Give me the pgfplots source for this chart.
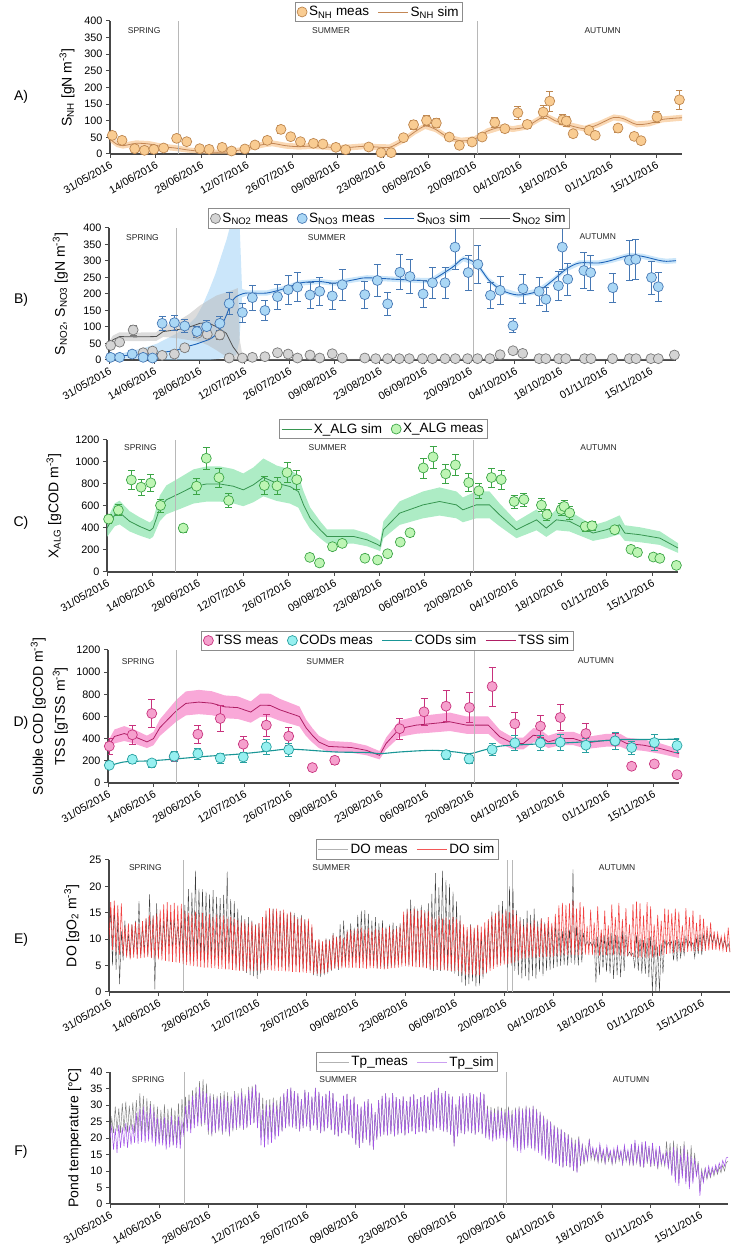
\documentclass[border=0pt]{standalone}
\usepackage{pgfplots}
\pgfplotsset{compat=1.18}
\usepackage{pgfplotstable}
\usepackage{fontspec}
\setmainfont{Liberation Sans}

\definecolor{Afill}{RGB}{249,204,146}
\definecolor{Aedge}{RGB}{190,135,80}
\definecolor{Aline}{RGB}{195,135,85}
\definecolor{Aband}{RGB}{246,190,130}
\definecolor{NOtwofill}{RGB}{212,212,212}
\definecolor{NOtwoedge}{RGB}{120,120,120}
\definecolor{NOtwoline}{RGB}{80,80,80}
\definecolor{NOtwoband}{RGB}{185,185,185}
\definecolor{NOthrfill}{RGB}{170,215,245}
\definecolor{NOthredge}{RGB}{70,120,180}
\definecolor{NOthrline}{RGB}{30,100,185}
\definecolor{NOthrband}{RGB}{160,210,245}
\definecolor{Cfill}{RGB}{190,245,180}
\definecolor{Cedge}{RGB}{60,165,70}
\definecolor{Cline}{RGB}{55,150,80}
\definecolor{Cband}{RGB}{145,230,178}
\definecolor{TSSfill}{RGB}{245,160,205}
\definecolor{TSSedge}{RGB}{200,50,125}
\definecolor{TSSline}{RGB}{175,30,100}
\definecolor{TSSband}{RGB}{245,110,190}
\definecolor{CODfill}{RGB}{150,240,240}
\definecolor{CODedge}{RGB}{40,160,160}
\definecolor{CODline}{RGB}{25,150,150}
\definecolor{DOsimc}{RGB}{240,45,45}
\definecolor{DOmeasc}{RGB}{60,60,60}
\definecolor{Tpsimc}{RGB}{160,80,230}
\definecolor{Tpmeasc}{RGB}{125,125,125}

\pgfplotsset{
  panel/.style={
    scale only axis, xmin=0, xmax=176, ymin=0,
    axis x line*=bottom, axis y line*=left,
    axis line style={-, line width=1.3pt, black!72},
    tick style={line width=1pt, black!72},
    tick align=outside, major tick length=4pt,
    xtick={0,14,...,168},
    xticklabels={31/05/2016,14/06/2016,28/06/2016,12/07/2016,26/07/2016,09/08/2016,23/08/2016,06/09/2016,20/09/2016,04/10/2016,18/10/2016,01/11/2016,15/11/2016},
    xticklabel style={rotate=30, anchor=north east, inner sep=1.5pt, font=\fontsize{10.8}{12}\selectfont},
    yticklabel style={font=\fontsize{10.8}{12}\selectfont},
    /pgf/number format/assume math mode=true,
    /pgf/number format/1000 sep={},
    ylabel style={font=\fontsize{14}{16}\selectfont},
    legend style={draw=black!45, line width=0.8pt, fill=white, legend columns=-1,
      font=\fontsize{13.5}{15}\selectfont, anchor=center, inner sep=2pt,
      /tikz/every even column/.append style={column sep=7pt}},
    legend cell align=left,
  },
  meas/.style={only marks, mark=*, mark size=5pt, line width=0.7pt, forget plot},
  season/.style={black!28, line width=0.9pt, forget plot},
  band/.style={draw=none, forget plot},
  markleg/.style={legend image code/.code={\draw[##1] plot coordinates {(0.25cm,0cm)};}},
  lineleg/.style={legend image code/.code={\draw[##1] (0cm,0cm) -- (1.05cm,0cm);}},
}
\tikzset{seasonlab/.style={font=\fontsize{8.5}{10}\selectfont, text=black!85}}

% ---------------- Panel A ----------------
\pgfplotstableread{
d v e
0.7 56 8
3.7 41 8
7.6 16 5
10.6 11 4
13.5 14 5
16.5 18 5
20.5 47 7
23.6 37 6
27.6 16 5
30.5 14 5
34.5 20 5
37.4 9 4
41.5 15 5
44.6 27 5
48.4 41 6
52.6 74 12
55.6 52 8
58.6 37 6
62.6 32 6
65.5 30 6
69.5 20 5
72.5 13 4
79.6 21 5
83.4 4 3
86.5 4 3
90.3 49 7
93.4 88 13
97.4 101 15
100.4 93 14
104.4 51 8
107.5 26 5
111.4 36 6
114.5 51 7
118.4 95 14
121.5 76 11
125.5 124 19
128.4 89 13
133.3 126 19
135.3 159 30
139.3 103 15
140.4 99 15
142.5 61 9
147.4 71 11
149.3 56 8
156.3 78 12
161.3 53 8
163.4 40 6
168.3 111 17
175.2 163 30
}\Ameas
\pgfplotstableread{
d v
0 45
2 30
4 25
8 32
12 30
16 22
20 18
24 12
28 8
32 5
36 6
40 12
44 22
48 30
50 32
54 25
58 22
62 24
66 22
70 18
74 20
78 23
82 21
86 20
90 40
94 68
97 84
100 75
104 50
108 40
112 44
116 68
120 80
124 75
128 82
132 105
134 115
137 100
140 90
146 76
150 88
155 110
158 106
162 89
166 92
170 104
176 109
}\Asim
% band outline: upper edge forward, lower edge backward
\pgfplotstableread{
d y
0 54
2 39
4 34
8 41
12 39
16 31
20 27
24 20
28 16
32 13
36 14
40 20
44 31
48 39
50 41
54 34
58 31
62 33
66 31
70 27
74 29
78 32
82 30
86 29
90 49
94 77
97 93
100 84
104 59
108 49
112 53
116 77
120 89
124 84
128 91
132 114
134 124
137 109
140 99
146 85
150 97
155 119
158 115
162 98
166 101
170 113
176 118
176 100
170 95
166 83
162 80
158 97
155 101
150 79
146 67
140 81
137 91
134 106
132 96
128 73
124 66
120 71
116 59
112 35
108 31
104 41
100 66
97 75
94 59
90 31
86 11
82 12
78 14
74 11
70 9
66 13
62 15
58 13
54 16
50 23
48 21
44 13
40 4
36 0
32 0
28 1
24 4
20 9
16 13
12 21
8 23
4 16
2 21
0 36
}\Apoly

% ---------------- Panel B ----------------
\pgfplotstableread{
d v e
0.5 44 6
3.3 54 7
7.5 91 15
10.6 22 5
13.5 27 5
16.5 14 4
20.3 18 4
23.5 37 6
27.5 81 10
30.5 78 10
34.4 76 12
37.3 6 3
41.4 6 3
44.5 8 3
48.4 10 4
52.3 22 5
55.6 18 5
58.5 6 3
62.4 15 5
65.4 6 3
69.3 19 5
72.4 6 3
79.4 6 3
82.8 4 3
86.5 4 3
90.1 4 3
93.2 4 3
97.3 4 3
100.4 4 3
104.3 4 3
107.5 4 3
111.3 4 3
114.4 4 3
118.2 4 3
121.4 16 5
125.4 28 6
128.4 20 5
133.5 4 3
135.6 4 3
139.6 4 3
141.8 4 3
147.6 4 3
149.6 4 3
156.3 4 3
161.5 4 3
163.6 4 3
168.2 4 3
170.5 4 3
175.5 15 5
}\Bnotwo
\pgfplotstableread{
d v e
0.5 8 3
3.3 8 3
7.2 18 4
10.6 8 3
13.5 6 3
16.5 111 22
20.3 113 22
23.5 103 20
27.3 86 17
30.3 101 20
34.4 111 22
37.3 171 34
41.4 144 29
44.5 189 38
48.4 150 30
52.3 192 38
55.6 213 43
58.5 221 44
62.4 197 39
65.4 208 42
69.3 194 39
72.4 228 46
79.4 198 40
83.3 241 48
86.5 170 34
90.3 266 53
93.4 253 51
97.5 200 40
100.4 234 47
104.3 234 47
107.4 342 68
111.5 265 53
114.5 290 58
118.4 196 39
121.4 211 42
125.4 104 21
128.5 216 43
133.5 208 42
135.6 184 37
139.5 225 45
140.7 342 68
142.4 245 49
147.4 271 54
149.5 265 53
156.4 219 44
161.5 302 60
163.5 305 61
168.4 250 50
170.5 222 44
}\Bnothree
\pgfplotstableread{
d v
0 10
4 13
8 15
12 18
15 20
18 25
21 30
24 40
27 48
29 55
31 62
33 75
35 105
36.5 137
38 175
39.5 192
40.5 197
41.3 200
43 203
49 203
55 218
59 233
65 238
70 233
76 243
80 249
90 244
97 241
100 241
106.6 281
110 307
114 292
118 241
122 211
127 197
133 208
137.7 241
142 276
146 294
152 294
156 302
161.5 317
165.6 314
170.7 302
173 299
176 301
}\Bsimthree
\pgfplotstableread{
d y
0 15
4 20
8 30
12 40
15 50
18 65
21 80
24 100
27 130
29 165
31 210
33 260
35 320
36.5 365
38 420
39.5 420
40.5 420
41.3 215
43 211
49 211
55 226
59 241
65 246
70 241
76 251
80 257
90 252
97 249
100 249
106.6 289
110 315
114 300
118 249
122 219
127 205
133 216
137.7 249
142 284
146 302
152 302
156 310
161.5 325
165.6 322
170.7 310
173 307
176 309
176 293
173 291
170.7 294
165.6 306
161.5 309
156 294
152 286
146 286
142 268
137.7 233
133 200
127 189
122 203
118 233
114 284
110 299
106.6 273
100 233
97 233
90 236
80 241
76 235
70 225
65 230
59 225
55 210
49 195
43 195
41.3 190
40.5 60
39.5 15
38 10
36.5 8
35 5
33 2
31 0
29 0
27 0
24 0
21 0
18 0
15 1
12 2
8 3
4 5
0 5
}\Bpolythree
\pgfplotstableread{
d v
0 45
1.2 61
3.3 71
8 70
14.7 71
16.8 86
21.9 93
25 100
28.2 111
30.7 113
33.3 101
36.4 81
38.5 40
40 20
40.6 10
41.5 4
42.7 2
50 1
176 1
}\Bsimtwo
\pgfplotstableread{
d y
0 55
1.2 74
3.3 84
8 83
14.7 84
16.8 102
21.9 121
25 140
28.2 165
30.7 180
33.3 195
36.4 205
38.5 212
40 218
40.6 60
41.5 10
42.7 5
50 3
176 3
176 0
50 0
42.7 0
41.5 0
40.6 0
40 0
38.5 0
36.4 10
33.3 30
30.7 45
28.2 55
25 60
21.9 65
16.8 70
14.7 58
8 57
3.3 58
1.2 48
0 35
}\Bpolytwo

% ---------------- Panel C ----------------
\pgfplotstableread{
d v e
0.5 481 40
3.5 562 50
7.5 837 85
10.5 771 75
13.5 810 80
16.5 605 60
23.5 399 35
27.6 780 75
30.6 1034 100
34.5 858 85
37.5 650 65
48.5 786 80
52.4 783 75
55.5 904 90
58.5 840 85
62.5 133 20
65.5 82 15
69.5 230 25
72.5 260 25
79.5 125 20
83.4 109 15
86.5 166 20
90.4 272 25
93.4 357 35
97.5 946 90
100.5 1046 100
104.4 892 90
107.4 973 95
111.5 813 80
114.6 738 70
118.5 859 85
121.5 840 85
125.5 641 60
128.5 659 60
133.9 608 60
135.6 523 50
140 568 55
140.9 596 60
142.6 538 55
147.4 414 40
149.5 420 40
156.5 384 35
161.5 206 20
163.5 178 20
168.4 136 15
170.4 124 15
175.5 60 10
}\Cmeas
\pgfplotstableread{
d v
0 399
2.4 520
3.9 540
7 460
10.1 414
13.2 375
14.2 399
16.3 580
18.3 656
22.5 716
26.6 777
30.7 800
34.8 800
38.9 780
42 747
45.1 792
48.2 860
52.3 807
56.4 777
59 731
60.6 610
62.6 490
65.7 384
67.8 323
71.9 323
76 323
80.1 293
83.4 250
84.2 235
85.2 384
90.2 535
97.4 610
102.5 641
107.7 610
109.7 565
113.8 610
117.9 610
121 520
126.2 384
129.3 429
132.4 474
135.4 399
138.5 474
142.6 460
145.7 414
149.8 354
153.9 384
158 429
159.6 354
164.2 339
170.4 308
176 218
}\Csim
\pgfplotstableread{
d y
0 479
2.4 624
3.9 648
7 552
10.1 497
13.2 450
14.2 479
16.3 696
18.3 787
22.5 859
26.6 932
30.7 960
34.8 960
38.9 936
42 896
45.1 950
48.2 1032
52.3 968
56.4 932
59 877
60.6 732
62.6 588
65.7 461
67.8 388
71.9 388
76 388
80.1 352
83.4 300
84.2 282
85.2 461
90.2 642
97.4 732
102.5 769
107.7 732
109.7 678
113.8 732
117.9 732
121 624
126.2 461
129.3 515
132.4 569
135.4 479
138.5 569
142.6 552
145.7 497
149.8 425
153.9 461
158 515
159.6 425
164.2 407
170.4 370
176 262
176 174
170.4 246
164.2 271
159.6 283
158 343
153.9 307
149.8 283
145.7 331
142.6 368
138.5 379
135.4 319
132.4 379
129.3 343
126.2 307
121 416
117.9 488
113.8 488
109.7 452
107.7 488
102.5 513
97.4 488
90.2 428
85.2 307
84.2 188
83.4 200
80.1 234
76 258
71.9 258
67.8 258
65.7 307
62.6 392
60.6 488
59 585
56.4 622
52.3 646
48.2 688
45.1 634
42 598
38.9 624
34.8 640
30.7 640
26.6 622
22.5 573
18.3 525
16.3 464
14.2 319
13.2 300
10.1 331
7 368
3.9 432
2.4 416
0 319
}\Cpoly

% ---------------- Panel D ----------------
\pgfplotstableread{
d v e
0.4 332 70
7.5 435 90
13.5 627 125
20.4 237 45
27.7 440 85
34.6 582 120
41.7 350 70
48.8 522 100
55.7 422 85
63 139 15
69.9 205 40
89.9 490 95
97.4 642 125
104.2 693 140
111.4 681 135
118.4 871 175
125.4 534 105
133.3 513 100
139.4 591 120
147.3 446 90
156.3 377 75
161.4 151 15
168.4 172 20
175.4 75 10
}\Dtss
\pgfplotstableread{
d v e
0.4 160 30
7.5 214 40
13.5 181 35
20.4 241 45
27.7 265 50
34.6 226 45
41.7 235 45
48.8 326 65
55.7 301 60
104.2 256 40
111.3 217 35
118.4 301 55
125.4 362 70
133.3 362 65
139.4 368 70
147.3 341 65
156.3 380 75
161.4 320 60
168.4 365 70
175.4 338 65
}\Dcod
\pgfplotstableread{
d v
0 150
5 190
13 200
20 215
30 240
40 260
50 290
55 305
60 300
70 280
80 275
84 265
90 280
100 295
107 280
111.5 265
115.6 295
120.8 332
125 341
131 350
141 362
152 380
158 392
162 392
176 395
}\Dcodsim
\pgfplotstableread{
d v
0 326
2 420
5 446
8 420
12 371
14 400
16 500
18 560
21 650
24 718
28 730
32 720
36 687
40 680
44 640
47 702
50 700
53 660
57 620
59 600
61 500
63 430
65 370
68 330
75 320
79.6 295
83.7 250
85.7 356
89.9 491
95 522
100.2 537
105.4 552
110.5 522
117.2 522
120.8 416
124.9 356
128 356
131.1 431
133.1 422
135.7 371
139.4 401
143.5 401
147.6 362
153.7 386
157.9 386
159.9 356
165.1 341
170.2 311
176 265
}\Dtsssim
\pgfplotstableread{
d y
0 375
2 483
5 513
8 483
12 427
14 460
16 575
18 644
21 748
24 826
28 840
32 828
36 790
40 782
44 736
47 807
50 805
53 759
57 713
59 690
61 575
63 495
65 426
68 380
75 368
79.6 339
83.7 288
85.7 409
89.9 565
95 600
100.2 618
105.4 635
110.5 600
117.2 600
120.8 478
124.9 409
128 409
131.1 496
133.1 485
135.7 427
139.4 461
143.5 461
147.6 416
153.7 444
157.9 444
159.9 409
165.1 392
170.2 358
176 305
176 225
170.2 264
165.1 290
159.9 303
157.9 328
153.7 328
147.6 308
143.5 341
139.4 341
135.7 315
133.1 359
131.1 366
128 303
124.9 303
120.8 354
117.2 444
110.5 444
105.4 469
100.2 456
95 444
89.9 417
85.7 303
83.7 213
79.6 251
75 272
68 281
65 315
63 366
61 425
59 510
57 527
53 561
50 595
47 597
44 544
40 578
36 584
32 612
28 621
24 610
21 553
18 476
16 425
14 340
12 315
8 357
5 379
2 357
0 277
}\Dpoly

% ---------------- Panel E (half-day lows/highs) ----------------
\pgfplotstableread[row sep=\\]{
y\\
10\\17\\8\\17.3\\7.5\\16.5\\7\\16.8\\6.8\\12.5\\6.5\\13\\6.2\\12.8\\
6.5\\13.2\\6.3\\12.9\\6.4\\13.4\\6.5\\14\\6.6\\14.6\\6.4\\14.3\\6.3\\14.8\\
6.2\\15.6\\6\\16.6\\5.9\\17\\5.8\\16.5\\5.7\\16.9\\5.6\\16.4\\5.5\\16.7\\
5.3\\15.4\\5.1\\15\\5\\14.8\\4.9\\15.2\\4.8\\14.6\\4.7\\15\\4.6\\14.4\\
4.6\\14.8\\4.5\\14.2\\4.5\\14.6\\4.4\\14.3\\4.4\\14.5\\4.3\\13.9\\4.3\\14.2\\
4.2\\13.8\\4.1\\13.6\\4\\13.2\\4\\13.5\\3.9\\12.8\\3.9\\13.3\\4\\12.6\\
4\\13.1\\4.1\\14.2\\4.1\\15.4\\4.2\\15.9\\4.1\\15.7\\4\\15.8\\4\\15.3\\
4\\15.6\\3.9\\14.9\\3.9\\15.1\\3.8\\14.3\\3.8\\13.8\\3.7\\14.1\\3.7\\13.6\\
3.6\\13.9\\3.6\\12.8\\3.5\\9.8\\3.4\\10\\3.5\\9.6\\3.6\\9.9\\3.8\\9.7\\
4.2\\10.8\\4.4\\10.4\\4.5\\10.6\\4.5\\10.2\\4.6\\11.5\\4.5\\11.8\\4.6\\11.6\\
4.6\\12\\4.5\\12.2\\4.5\\11.8\\4.4\\12.1\\4.5\\11.6\\4.5\\12\\4.4\\11.7\\
4.4\\12.2\\4.3\\11.9\\4.4\\12.3\\4.5\\11.8\\4.5\\12\\4.6\\12.6\\4.8\\15.2\\
4.9\\15.6\\4.8\\15.4\\4.8\\15.8\\4.7\\15.3\\4.7\\15.5\\4.6\\15.1\\4.5\\15.3\\
4.4\\14.2\\4.3\\13.8\\4.2\\14.4\\4.2\\13.9\\4.1\\14.1\\4.1\\13.7\\4\\14.2\\
4\\13.8\\3.9\\13.5\\3.5\\12.8\\3.3\\12.3\\3.2\\12.6\\3.2\\12.2\\3.1\\12.7\\
3.2\\12.4\\3.4\\13.2\\3.7\\13.8\\4\\14.5\\4.4\\15\\4.7\\15.3\\5\\14.8\\
5.2\\15.4\\5.3\\15.1\\5.4\\15.5\\5.6\\14.6\\6\\13.5\\6.2\\12.5\\6.3\\13.2\\
6.4\\12.8\\6.5\\13.6\\6.5\\12.4\\6.6\\13.9\\6.6\\12.9\\6.7\\14.2\\6.6\\13.1\\
6.7\\14.8\\6.8\\16.4\\6.9\\16.9\\7\\16.5\\7\\16.8\\7.1\\17.2\\7\\15.8\\
7\\17\\7\\16.2\\7.1\\12.5\\7\\15.6\\7\\13.2\\6.9\\16.2\\6.9\\11.8\\
7\\15.4\\7\\12.6\\7.1\\16.6\\7\\14.2\\7\\16.9\\6.9\\13.8\\6.8\\15.9\\
6.8\\12.8\\6.7\\16.6\\6.6\\17.1\\6.5\\16.8\\6.5\\14.5\\6.5\\17\\6.4\\16.2\\
6.5\\12.8\\6.6\\14.6\\6.8\\13.5\\7\\15.8\\7.2\\15.6\\7.3\\14.9\\7.4\\15.8\\
7.5\\15.2\\7.5\\12.6\\7.6\\15.9\\7.6\\14.2\\7.7\\15.4\\7.7\\13.1\\7.8\\14.6\\
7.8\\13.9\\7.8\\12.5\\7.9\\13.2\\8\\11.5\\8\\11.2\\8.1\\10.5\\7.9\\10.8\\7.6\\12.2\\
7.5\\
}\DOsim
\pgfplotstableread[row sep=\\]{
y\\
9\\15.8\\5\\16.5\\4.2\\14\\1.5\\11.5\\6\\13.5\\7\\11\\6.5\\12.8\\
7.2\\13.5\\7\\17.2\\6.8\\12.5\\7.5\\13.8\\7\\18.5\\6.5\\14.5\\0.5\\16.8\\
6.5\\13.2\\7.2\\13.5\\8\\15\\8.5\\14.2\\8\\13.8\\9\\12.5\\8.5\\13.5\\
6.5\\16.5\\6.5\\19.5\\6\\18.8\\5.8\\23\\6.5\\19.6\\6\\19.5\\5.5\\19\\
6.2\\18.5\\5.8\\19.3\\6\\18\\5.5\\17.8\\6\\18.4\\5.8\\22.8\\5.5\\17.6\\
5\\17.2\\4.5\\15.8\\4.2\\14.5\\4\\13.8\\3.6\\14.2\\3.2\\13.5\\3\\12.8\\
2.5\\13\\3.5\\12.5\\4.2\\14.8\\4.5\\15.5\\5\\15.8\\5.2\\15.2\\5\\15.4\\
4.8\\15\\5\\14.6\\4.6\\15.2\\4.5\\15\\4.8\\14.2\\4.6\\14.6\\4.4\\13.8\\
4.5\\13.5\\4\\12.2\\3.2\\9.5\\3\\9.8\\2.8\\9.2\\3.2\\10.2\\3.5\\10\\
4\\11.2\\4.5\\10.5\\4.2\\12.8\\5\\13.5\\5.5\\11.8\\5.8\\13\\6\\12.2\\
5.6\\14.6\\5.2\\15.4\\5.8\\15.5\\5\\14.8\\5.2\\13.5\\5\\14.2\\4.5\\13\\
4.8\\13.6\\4.5\\12.4\\4.6\\12.8\\4.8\\13.2\\5\\12.5\\5.2\\13\\5.5\\14.2\\
5.5\\15.8\\5.2\\17.5\\5\\16.2\\5.4\\15.8\\5\\16.5\\4.8\\15.5\\4.5\\16.8\\
4.2\\18.6\\4\\22.5\\4.2\\19.8\\4\\23\\4.4\\21.2\\4\\20.5\\3.8\\19\\
3.5\\17.2\\3\\14.5\\1.8\\12.2\\1.2\\11.5\\1.5\\12.8\\2\\11.8\\1\\12.5\\
1.2\\11.2\\2.5\\12\\3.5\\13.5\\4.5\\15.2\\5\\14.8\\5.2\\16.5\\5.5\\17.2\\
5.8\\15.8\\4.5\\20\\5\\19.6\\4\\15.5\\3.2\\14.2\\2.6\\13.8\\3\\15.4\\
2.2\\14.6\\3\\15.8\\2.5\\13.5\\3.8\\14\\3\\13.2\\4\\12.8\\4.2\\12.4\\
4.5\\13\\4.8\\12\\5\\11.5\\5.2\\12.2\\5\\11.8\\5.5\\23.2\\5.2\\12.5\\
5\\11.8\\5.6\\11.2\\8.6\\9.6\\8.8\\9.4\\8.5\\9.8\\1.8\\10.5\\3.2\\11.2\\
4.5\\10.8\\3.8\\10.5\\3.5\\11.2\\2.5\\10.8\\3.2\\10.5\\2.8\\11.6\\4\\10.8\\
6.8\\7.6\\6.9\\7.4\\4.5\\10.8\\4\\10.2\\3.5\\9.8\\3.5\\10.2\\2.8\\10.5\\
0\\9.8\\0.2\\8.6\\0\\9.2\\3.5\\9.8\\8.6\\9.4\\8.8\\9.6\\6\\9.8\\
5.8\\10\\6.5\\9.4\\7\\10.5\\8.4\\9.6\\8.6\\9.4\\6.5\\10.2\\7.2\\11\\
7\\10.8\\8.5\\11.2\\9.2\\11\\9.4\\10.8\\9\\10.5\\8.8\\10.2\\8.5\\9.8\\8.2\\9.2\\
7.6\\
}\DOmeas

% ---------------- Panel F (half-day lows/highs) ----------------
\pgfplotstableread[row sep=\\]{
y\\
20\\23.5\\16.5\\22.8\\15.5\\24\\17\\23.2\\17.5\\24.5\\17\\23.8\\18\\24.2\\
18.5\\27.5\\18.2\\28.8\\18.8\\29.5\\18.5\\27.8\\19\\29.8\\18.6\\28.2\\17.5\\26.2\\
18\\25.8\\17.8\\26.4\\16.5\\25.5\\17.2\\26.8\\17.8\\25.2\\17\\26.5\\16.8\\24.8\\
21\\29.6\\22\\31.2\\21.5\\32.8\\23\\33.5\\23.5\\35.5\\24.2\\34.2\\24.5\\33.6\\
22\\32.8\\21\\31.5\\21.8\\32.2\\22.5\\31.8\\21.6\\32.5\\22.2\\31.2\\21\\30.8\\
22.5\\33.2\\23\\32.5\\23.5\\33.8\\22.8\\32.2\\23.2\\34.5\\24\\35.2\\24.5\\36.2\\
23\\33.5\\17.8\\28.5\\17.2\\30.2\\18\\29.5\\18.5\\30.8\\19.5\\29.8\\20.5\\31.2\\
22\\33.5\\23\\34.8\\23.5\\35.3\\23.2\\34.2\\22.8\\33.5\\22\\31.8\\23\\34.6\\
23.5\\33.8\\22.2\\32.5\\23.8\\35.2\\22.5\\34\\21.5\\32.6\\22\\33.4\\23\\34.3\\
22.4\\33.6\\21\\31\\20.5\\30.5\\21.5\\32.8\\22.2\\33.4\\21\\31.6\\20\\32.5\\
18\\30.2\\17\\29.5\\18.5\\31\\19.5\\31.8\\17.8\\30.4\\16.5\\27.8\\19.5\\31.5\\
20.5\\32.8\\21\\33.5\\20.8\\32.2\\21.2\\33.6\\20.5\\32.4\\21\\31.8\\21.5\\32.6\\
20.8\\31.2\\21.5\\32.5\\22\\33.2\\21.2\\31.8\\21.8\\32.4\\22\\33\\21.5\\32.5\\
22.5\\33.8\\22\\34.5\\23\\35.2\\22.5\\33.6\\22\\34.2\\21.8\\33.4\\21\\32.5\\
17.5\\30.2\\20.5\\32.6\\21.5\\33.5\\21.2\\32.8\\22\\33.6\\21.5\\33.2\\21\\32.5\\
21.8\\33.8\\21.2\\33.4\\20\\28.8\\19.5\\28.4\\19\\27.6\\19.5\\28.6\\19.8\\28.2\\
20\\27.8\\19\\28.5\\19.5\\27.2\\17\\28.5\\16\\29.2\\15.5\\28.6\\16.5\\29.4\\
17\\28.8\\16.8\\29.6\\16\\28.4\\15.5\\27.8\\14.5\\26.5\\13.5\\25.5\\13\\24.8\\
12.5\\23.6\\12.2\\22.8\\11.5\\22.5\\11\\21.6\\11.8\\20.8\\11.2\\19.5\\10.2\\18.4\\
9.5\\19.8\\12.2\\17.8\\12.8\\16.5\\13.5\\19.5\\14.5\\17.2\\14\\16.8\\13\\18.2\\
14\\16.5\\12.5\\17.6\\14.2\\16.2\\12.5\\16.8\\13.2\\17.5\\13.8\\16.2\\12.2\\17.8\\
13.5\\16.4\\12.5\\18.2\\11.8\\19.4\\13\\17.5\\11.5\\18.8\\11.2\\19\\12.8\\17.6\\
11.5\\18.5\\12\\16.8\\11\\17.6\\12.5\\15.2\\12\\15.8\\11\\16.2\\8.5\\17.2\\
6.5\\16.8\\5.5\\14.8\\7.8\\17.5\\6\\15.2\\4.5\\14.5\\6.2\\13.8\\8.5\\12.2\\
2.5\\9.5\\6.5\\10.8\\8\\11.5\\8.5\\11.2\\9.2\\11.8\\9.8\\12.4\\10.5\\13.2\\11.5\\14\\
14.2\\
}\Tpsim
\pgfplotstableread[row sep=\\]{
y\\
21\\26\\21.5\\29.5\\22\\29\\21.5\\30.5\\22\\31\\21.8\\29.8\\22.5\\30.8\\
21.5\\31.5\\22\\33.5\\21\\32.8\\20.8\\32\\21.5\\31.2\\20\\30.2\\19.5\\29.5\\
18.5\\28.5\\18.8\\30.2\\18\\28.8\\18.5\\29.2\\17.8\\28.4\\18.2\\30.5\\18.8\\31.8\\
22\\32.5\\23\\33.2\\22.5\\34.5\\24\\35.5\\24.5\\37.2\\23.5\\37.8\\24\\36.5\\
21\\33.5\\20.5\\33.2\\21.5\\32.8\\22\\33.6\\21\\34.2\\21.8\\33.8\\20.5\\32.5\\
22\\34.2\\22.5\\33.5\\23\\35\\22.5\\33.2\\23\\35.5\\24\\35.8\\24.5\\36.2\\
23.5\\33.8\\20.2\\32.2\\19.5\\31.5\\20.2\\31.8\\20\\32.2\\20.5\\31.5\\21\\32.5\\
22\\33.5\\23\\34.8\\23.5\\35.3\\23.2\\34.2\\22.8\\33.5\\22\\31.8\\23\\34.6\\
23.5\\33.8\\22.2\\32.5\\23.8\\35.2\\22.5\\34\\21.5\\32.6\\22\\33.4\\23\\34.3\\
22.4\\33.6\\21\\31\\20.5\\30.5\\21.5\\32.8\\22.2\\33.4\\21\\31.6\\20\\32.5\\
18\\30.2\\17\\29.5\\18.5\\31\\19.5\\31.8\\17.8\\30.4\\16.5\\27.8\\19.5\\31.5\\
20.5\\32.8\\21\\33.5\\20.8\\32.2\\21.2\\33.6\\20.5\\32.4\\21\\31.8\\21.5\\32.6\\
20.8\\31.2\\21.5\\32.5\\22\\33.2\\21.2\\31.8\\21.8\\32.4\\22\\33\\21.5\\32.5\\
22.5\\33.8\\22\\34.5\\23\\35.2\\22.5\\33.6\\22\\34.2\\21.8\\33.4\\21\\32.5\\
17.5\\30.2\\20.5\\32.6\\21.5\\33.5\\21.2\\32.8\\22\\33.6\\21.5\\33.2\\21\\32.5\\
21.8\\33.8\\21.2\\33.4\\20.5\\29.8\\20.2\\29.4\\19.8\\29\\20\\29.6\\20.5\\29.2\\
20.8\\28.8\\19.5\\29.5\\20\\28.5\\17.5\\29.2\\17\\29.6\\16.5\\29\\17\\29.8\\
17.5\\29.2\\17\\29.8\\16.5\\28.8\\16\\28\\15\\26.8\\14\\25.8\\13.2\\25\\
12.8\\24\\12.2\\23.2\\11.8\\22.8\\11.2\\21.8\\11.5\\21.2\\11\\20.2\\10\\19.5\\
9.8\\20.5\\11.5\\18.2\\12\\17.2\\13\\19.8\\13.5\\16.5\\13.2\\16.2\\12.5\\17.5\\
12.8\\15.8\\12.2\\16.8\\13\\15.6\\12\\16.2\\12.5\\16.8\\13\\15.8\\12\\17.2\\
12.8\\15.8\\12\\17.6\\11.5\\18.5\\12.5\\17\\11.2\\18.2\\11\\18.5\\12.2\\17\\
11.2\\18\\11.5\\16.5\\10.5\\17.2\\11.8\\15\\11.5\\19\\10.8\\18.5\\9\\19.2\\
7.5\\18.2\\6.5\\17.5\\8.5\\19\\7\\16.5\\6\\17.8\\7.2\\15.5\\8.5\\13\\
4\\10.5\\7.2\\10.8\\7.5\\10.2\\8\\10.5\\8.5\\11\\9\\11.2\\9.5\\11.8\\10\\12.5\\
13\\
}\Tpmeas

\begin{document}
\begin{tikzpicture}
\path[use as bounding box] (0,0) rectangle (736pt,1249pt);

% ===== A =====
\begin{axis}[panel, at={(110pt,1095pt)}, anchor=south west, width=572pt, height=133pt,
  ymax=400, ytick={0,50,...,400},
  ylabel={S\textsubscript{NH} [gN m\textsuperscript{-3}]},
  ylabel style={at={(axis description cs:-0.075,0.5)}, anchor=center},
  legend style={at={(0.470,1.068)}}]
\addplot[band, fill=Aband, fill opacity=0.6] table[x=d,y=y]{\Apoly};
\addplot[Aline, line width=0.8pt, smooth, forget plot] table[x=d,y=v]{\Asim};
\addplot[season] coordinates {(21.2,0) (21.2,400)};
\addplot[season] coordinates {(113,0) (113,400)};
\addplot[meas, mark options={fill=Afill, draw=Aedge},
  error bars/.cd, y dir=both, y explicit, error bar style={Aedge, line width=0.6pt},
  error mark options={rotate=90, Aedge, mark size=3.5pt, line width=0.6pt}]
  table[x=d,y=v,y error=e]{\Ameas};
\node[seasonlab] at (axis cs:10.5,372) {SPRING};
\node[seasonlab] at (axis cs:68,372) {SUMMER};
\node[seasonlab] at (axis cs:151.6,372) {AUTUMN};
\addlegendimage{markleg, only marks, mark=*, mark size=5pt, line width=0.7pt, mark options={fill=Afill, draw=Aedge}}
\addlegendentry{S\textsubscript{NH} meas}
\addlegendimage{lineleg, Aline, line width=0.8pt}
\addlegendentry{S\textsubscript{NH} sim}
\end{axis}

% ===== B =====
\begin{axis}[panel, at={(109pt,889pt)}, anchor=south west, width=567pt, height=132pt,
  ymax=400, ytick={0,50,...,400},
  ylabel={S\textsubscript{NO2}, S\textsubscript{NO3} [gN m\textsuperscript{-3}]},
  ylabel style={at={(axis description cs:-0.086,0.5)}, anchor=center},
  legend style={at={(0.494,1.072)}}]
\addplot[band, fill=NOthrband, fill opacity=0.55] table[x=d,y=y]{\Bpolythree};
\addplot[band, fill=NOtwoband, fill opacity=0.5] table[x=d,y=y]{\Bpolytwo};
\addplot[NOtwoline, line width=0.8pt, forget plot] table[x=d,y=v]{\Bsimtwo};
\addplot[NOthrline, line width=0.9pt, smooth, forget plot] table[x=d,y=v]{\Bsimthree};
\addplot[season] coordinates {(20.9,0) (20.9,400)};
\addplot[season] coordinates {(113,0) (113,400)};
\addplot[meas, mark options={fill=NOtwofill, draw=NOtwoedge},
  error bars/.cd, y dir=both, y explicit, error bar style={NOtwoedge, line width=0.6pt},
  error mark options={rotate=90, NOtwoedge, mark size=3.5pt, line width=0.6pt}]
  table[x=d,y=v,y error=e]{\Bnotwo};
\addplot[meas, mark options={fill=NOthrfill, draw=NOthredge},
  error bars/.cd, y dir=both, y explicit, error bar style={NOthredge, line width=0.6pt},
  error mark options={rotate=90, NOthredge, mark size=3.5pt, line width=0.6pt}]
  table[x=d,y=v,y error=e]{\Bnothree};
\node[seasonlab] at (axis cs:10.4,370) {SPRING};
\node[seasonlab] at (axis cs:67.6,370) {SUMMER};
\node[seasonlab] at (axis cs:151.7,374) {AUTUMN};
\addlegendimage{markleg, only marks, mark=*, mark size=5pt, line width=0.7pt, mark options={fill=NOtwofill, draw=NOtwoedge}}
\addlegendentry{S\textsubscript{NO2} meas}
\addlegendimage{markleg, only marks, mark=*, mark size=5pt, line width=0.7pt, mark options={fill=NOthrfill, draw=NOthredge}}
\addlegendentry{S\textsubscript{NO3} meas}
\addlegendimage{lineleg, NOthrline, line width=0.9pt}
\addlegendentry{S\textsubscript{NO3} sim}
\addlegendimage{lineleg, NOtwoline, line width=0.8pt}
\addlegendentry{S\textsubscript{NO2} sim}
\end{axis}

% ===== C =====
\begin{axis}[panel, at={(107pt,677pt)}, anchor=south west, width=571pt, height=132pt,
  ymax=1200, ytick={0,200,...,1200},
  ylabel={X\textsubscript{ALG} [gCOD m\textsuperscript{-3}]},
  ylabel style={at={(axis description cs:-0.093,0.5)}, anchor=center},
  legend style={at={(0.484,1.083)}}]
\addplot[band, fill=Cband, fill opacity=0.75] table[x=d,y=y]{\Cpoly};
\addplot[Cline, line width=0.8pt, forget plot] table[x=d,y=v]{\Csim};
\addplot[season] coordinates {(21.1,0) (21.1,1200)};
\addplot[season] coordinates {(113,0) (113,1200)};
\addplot[meas, mark options={fill=Cfill, draw=Cedge},
  error bars/.cd, y dir=both, y explicit, error bar style={Cedge, line width=0.6pt},
  error mark options={rotate=90, Cedge, mark size=3.5pt, line width=0.6pt}]
  table[x=d,y=v,y error=e]{\Cmeas};
\node[seasonlab] at (axis cs:10.3,1128) {SPRING};
\node[seasonlab] at (axis cs:68,1128) {SUMMER};
\node[seasonlab] at (axis cs:151.5,1128) {AUTUMN};
\addlegendimage{lineleg, Cline, line width=0.8pt}
\addlegendentry{X\_ALG sim}
\addlegendimage{markleg, only marks, mark=*, mark size=5pt, line width=0.7pt, mark options={fill=Cfill, draw=Cedge}}
\addlegendentry{X\_ALG meas}
\end{axis}

% ===== D =====
\begin{axis}[panel, at={(108pt,466pt)}, anchor=south west, width=571pt, height=133pt,
  ymax=1200, ytick={0,200,...,1200},
  ylabel={Soluble COD [gCOD m\textsuperscript{-3}]\\[6pt]TSS [gTSS m\textsuperscript{-3}]},
  ylabel style={at={(axis description cs:-0.103,0.5)}, anchor=center, align=center},
  legend style={at={(0.489,1.071)}}]
\addplot[band, fill=TSSband, fill opacity=0.6] table[x=d,y=y]{\Dpoly};
\addplot[TSSline, line width=0.8pt, forget plot] table[x=d,y=v]{\Dtsssim};
\addplot[CODline, line width=1.1pt, smooth, forget plot] table[x=d,y=v]{\Dcodsim};
\addplot[season] coordinates {(21.2,0) (21.2,1200)};
\addplot[season] coordinates {(113,0) (113,1200)};
\addplot[meas, mark options={fill=TSSfill, draw=TSSedge},
  error bars/.cd, y dir=both, y explicit, error bar style={TSSedge, line width=0.6pt},
  error mark options={rotate=90, TSSedge, mark size=3.5pt, line width=0.6pt}]
  table[x=d,y=v,y error=e]{\Dtss};
\addplot[meas, mark options={fill=CODfill, draw=CODedge},
  error bars/.cd, y dir=both, y explicit, error bar style={CODedge, line width=0.6pt},
  error mark options={rotate=90, CODedge, mark size=3.5pt, line width=0.6pt}]
  table[x=d,y=v,y error=e]{\Dcod};
\node[seasonlab] at (axis cs:9.3,1100) {SPRING};
\node[seasonlab] at (axis cs:67,1100) {SUMMER};
\node[seasonlab] at (axis cs:150.4,1100) {AUTUMN};
\addlegendimage{markleg, only marks, mark=*, mark size=5pt, line width=0.7pt, mark options={fill=TSSfill, draw=TSSedge}}
\addlegendentry{TSS meas}
\addlegendimage{markleg, only marks, mark=*, mark size=5pt, line width=0.7pt, mark options={fill=CODfill, draw=CODedge}}
\addlegendentry{CODs meas}
\addlegendimage{lineleg, CODline, line width=1.1pt}
\addlegendentry{CODs sim}
\addlegendimage{lineleg, TSSline, line width=0.8pt}
\addlegendentry{TSS sim}
\end{axis}

% ===== E =====
\begin{axis}[panel, at={(109pt,257pt)}, anchor=south west, width=621pt, height=132pt,
  ymax=25, ytick={0,5,...,25},
  ylabel={DO [gO\textsubscript{2} m\textsuperscript{-3}]},
  ylabel style={at={(axis description cs:-0.060,0.5)}, anchor=center},
  legend style={at={(0.480,1.080)}}]
\addplot[season] coordinates {(21,0) (21,25)};
\addplot[season] coordinates {(112.8,0) (112.8,25)};
\addplot[season] coordinates {(114.2,0) (114.2,25)};
\addplot[DOmeasc, line width=0.35pt, forget plot] table[x expr=\coordindex*0.5, y=y]{\DOmeas};
\addplot[DOsimc, line width=0.55pt, opacity=0.9, forget plot] table[x expr=\coordindex*0.5, y=y]{\DOsim};
\node[seasonlab] at (axis cs:10.3,23.6) {SPRING};
\node[seasonlab] at (axis cs:63,23.6) {SUMMER};
\node[seasonlab] at (axis cs:144,23.6) {AUTUMN};
\addlegendimage{lineleg, black!30, line width=0.8pt}
\addlegendentry{DO meas}
\addlegendimage{lineleg, DOsimc!80, line width=0.8pt}
\addlegendentry{DO sim}
\end{axis}

% ===== F =====
\begin{axis}[panel, at={(110pt,45pt)}, anchor=south west, width=618pt, height=132pt,
  ymax=40, ytick={0,5,...,40},
  ylabel={Pond temperature [°C]},
  ylabel style={at={(axis description cs:-0.057,0.5)}, anchor=center},
  legend style={at={(0.481,1.076)}}]
\addplot[season] coordinates {(21.1,0) (21.1,40)};
\addplot[season] coordinates {(112.8,0) (112.8,40)};
\addplot[Tpmeasc, line width=0.45pt, forget plot] table[x expr=\coordindex*0.5, y=y]{\Tpmeas};
\addplot[Tpsimc, line width=0.5pt, forget plot] table[x expr=\coordindex*0.5, y=y]{\Tpsim};
\node[seasonlab] at (axis cs:10.9,37.6) {SPRING};
\node[seasonlab] at (axis cs:65,37.6) {SUMMER};
\node[seasonlab] at (axis cs:148.4,37.6) {AUTUMN};
\addlegendimage{lineleg, black!30, line width=0.8pt}
\addlegendentry{Tp\_meas}
\addlegendimage{lineleg, Tpsimc!55, line width=0.8pt}
\addlegendentry{Tp\_sim}
\end{axis}

% panel letters
\node[font=\fontsize{14}{16}\selectfont] at (21pt,1152pt) {A)};
\node[font=\fontsize{14}{16}\selectfont] at (21pt,949pt) {B)};
\node[font=\fontsize{14}{16}\selectfont] at (21pt,726pt) {C)};
\node[font=\fontsize{14}{16}\selectfont] at (21pt,526pt) {D)};
\node[font=\fontsize{14}{16}\selectfont] at (21pt,309pt) {E)};
\node[font=\fontsize{14}{16}\selectfont] at (21pt,97pt) {F)};
\end{tikzpicture}
\end{document}
